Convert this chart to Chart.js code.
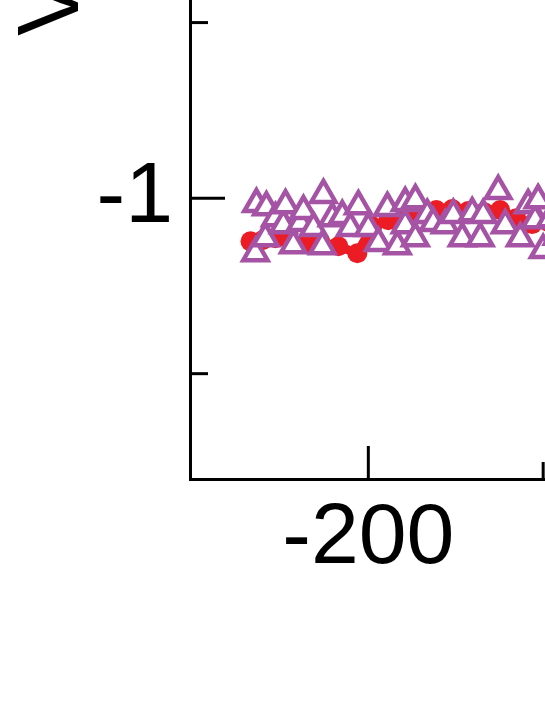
<!DOCTYPE html>
<html>
<head>
<meta charset="utf-8">
<script src="https://cdn.jsdelivr.net/npm/chart.js@4"></script>
<style>
  html, body { margin: 0; padding: 0; width: 545px; height: 705px; overflow: hidden; background: #fff; }
  #myChart { position: absolute; left: 0; top: -874px; }
</style>
</head>
<body>
<canvas id="myChart" width="740" height="1579"></canvas>
<script>
// red series (line + filled circles)
const redX = [-267.4, -260.6, -253.1, -244.6, -236.0, -227.4, -217.1, -206.3, -197.7, -188.6, -179.4,
              -170.3, -161.1, -152.0, -142.9, -133.7, -124.6, -115.4, -106.3, -97.1, -88.0];
const redY = [-1.123, -1.120, -1.114, -1.125, -1.131, -1.125, -1.137, -1.157, -1.080, -1.063, -1.051,
              -1.046, -1.034, -1.031, -1.037, -1.040, -1.034, -1.057, -1.074, -1.068, -1.057];

// purple series (open triangles)
const triX = [-264.6, -264.0, -258.9, -258.3, -253.1, -248.6, -247.4, -242.9, -238.9, -237.1, -231.4,
              -226.3, -225.7, -220.6, -214.9, -210.3, -205.7, -200.0, -194.3, -189.1, -183.4, -178.9,
              -178.9, -173.1, -173.1, -166.3, -162.9, -156.0, -151.4, -146.3, -140.6, -136.0, -134.3,
              -125.7, -121.7, -113.1, -108.6, -104.6, -102.9, -100.0, -96.0, -92.0, -88.0];
const triY = [-1.157, -1.017, -1.114, -1.026, -1.057, -1.077, -1.020, -1.134, -1.071, -1.037, -1.085,
              -1.137, -0.991, -1.057, -1.051, -1.085, -1.023, -1.085, -1.128, -1.028, -1.137, -1.014,
              -1.077, -1.006, -1.114, -1.048, -1.071, -1.077, -1.048, -1.114, -1.043, -1.114, -1.048,
              -0.980, -1.077, -1.114, -1.020, -1.063, -1.006, -1.148, -1.060, -1.110, -1.030];

// tick positions (major ones get labels)
const xTicks = [-200, -100, 0];
const xMajor = [-200, 0];
const yTicks = [-1.5, -1, -0.5, 0, 0.5, 1, 1.5];
const yMajor = [-1, 0, 1];

const xMin = -302, xMax = 0;
const yMin = -1.8, yMax = 1.964;
const yTitle = "Voltage (V)";

const fontFamily = "'Liberation Sans', Arial, sans-serif";

// inward major/minor tick marks
const inwardTicks = {
    id: "inwardTicks",
    afterDraw(chart) {
        const { ctx, chartArea, scales } = chart;
        ctx.save();
        ctx.strokeStyle = "#000";
        ctx.lineWidth = 3;
        xTicks.forEach((v) => {
            const len = xMajor.includes(v) ? 33 : 17;
            const px = scales.x.getPixelForValue(v);
            ctx.beginPath();
            ctx.moveTo(px, chartArea.bottom);
            ctx.lineTo(px, chartArea.bottom - len);
            ctx.stroke();
        });
        yTicks.forEach((v) => {
            const len = yMajor.includes(v) ? 35 : 18;
            const py = scales.y.getPixelForValue(v);
            ctx.beginPath();
            ctx.moveTo(chartArea.left, py);
            ctx.lineTo(chartArea.left + len, py);
            ctx.stroke();
        });
        ctx.restore();
    },
};

const ctx = document.getElementById("myChart");
new Chart(ctx, {
    type: "scatter",
    data: {
        datasets: [
            {
                label: "triangles",
                data: triX.map((x, i) => ({ x, y: triY[i] })),
                pointStyle: "triangle",
                pointRadius: 14,
                borderWidth: 4.5,
                borderColor: "#a553a4",
                backgroundColor: "#ffffff",
                showLine: false,
                order: 0,
            },
            {
                label: "red",
                data: redX.map((x, i) => ({ x, y: redY[i] })),
                pointStyle: "circle",
                pointRadius: 10,
                pointBorderWidth: 0,
                borderColor: "#ec1c24",
                backgroundColor: "#ec1c24",
                showLine: true,
                borderWidth: 9,
                order: 1,
            },
        ],
    },
    options: {
        responsive: false,
        animation: false,
        events: [],
        layout: { padding: { top: 31.5, right: 22, left: 0, bottom: 0 } },
        plugins: { legend: { display: false }, tooltip: { enabled: false } },
        scales: {
            x: {
                type: "linear",
                min: xMin,
                max: xMax,
                afterBuildTicks: (scale) => { scale.ticks = xTicks.map((v) => ({ value: v })); },
                afterFit: (scale) => {
                    scale.height = 226;
                    scale.paddingLeft = 0;
                    scale.paddingRight = 0;
                },
                grid: { drawOnChartArea: false, drawTicks: false },
                border: { display: true, width: 3, color: "#000" },
                ticks: {
                    autoSkip: false,
                    maxRotation: 0,
                    padding: 9,
                    color: "#000",
                    font: { family: fontFamily, size: 86 },
                    callback: (v) => (xMajor.includes(v) ? String(v) : ""),
                },
            },
            y: {
                type: "linear",
                min: yMin,
                max: yMax,
                afterBuildTicks: (scale) => { scale.ticks = yTicks.map((v) => ({ value: v })); },
                afterFit: (scale) => {
                    scale.width = 190;
                    scale.paddingTop = 0;
                    scale.paddingBottom = 0;
                },
                grid: { drawOnChartArea: false, drawTicks: false },
                border: { display: true, width: 3, color: "#000" },
                ticks: {
                    autoSkip: false,
                    padding: 17,
                    color: "#000",
                    font: { family: fontFamily, size: 86 },
                    callback: (v) => (yMajor.includes(v) ? String(v) : ""),
                },
                title: {
                    display: true,
                    text: yTitle,
                    color: "#000",
                    padding: { top: 3, bottom: 0 },
                    font: { family: fontFamily, size: 88, lineHeight: 1.15 },
                },
            },
        },
    },
    plugins: [inwardTicks],
});
</script>
</body>
</html>
